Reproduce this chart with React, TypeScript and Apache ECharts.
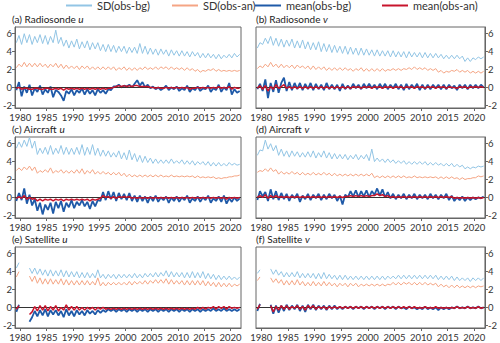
import React, { useEffect, useRef } from "react";
import * as echarts from "echarts";

// time axis: half-year samples starting 1979.25
const FIRST_SAMPLE = 1979.25;
const SAMPLE_STEP = 0.5;
const xTickYears = [1980, 1985, 1990, 1995, 2000, 2005, 2010, 2015, 2020];
const yTickValues = [-2, 0, 2, 4, 6];
const seriesNames = ["SD(obs-bg)", "SD(obs-an)", "mean(obs-bg)", "mean(obs-an)"];
const panelLabels = ["(a) Radiosonde ", "(b) Radiosonde ", "(c) Aircraft ", "(d) Aircraft ", "(e) Satellite ", "(f) Satellite "];
const panelComponents = ["u", "v", "u", "v", "u", "v"];

// (a) Radiosonde u
const radUSdBg = [5.0,5.8,4.8,6.0,5.0,5.9,4.8,5.7,5.0,5.9,4.9,5.8,4.8,5.7,5.0,6.4,4.9,5.6,4.6,5.3,
  4.4,5.2,4.5,5.4,4.3,5.1,4.4,5.2,4.2,5.0,4.3,5.0,4.1,4.8,4.0,4.8,4.0,4.7,3.9,4.6,
  4.0,4.6,3.8,4.5,3.9,4.5,3.8,4.9,3.8,4.6,3.7,4.4,3.7,4.3,3.6,4.3,3.7,4.2,3.5,4.2,
  3.6,4.1,3.5,4.1,3.5,4.0,3.4,4.0,3.5,3.9,3.3,3.8,3.3,3.8,3.3,3.7,3.2,3.7,3.2,3.6,
  3.3,3.7,3.3,3.8,3.4,3.7];
const radUSdAn = [2.2,2.6,2.3,2.8,2.3,2.7,2.3,2.7,2.3,2.7,2.3,2.6,2.2,2.6,2.3,2.7,2.2,2.6,2.1,2.5,
  2.1,2.4,2.1,2.4,2.0,2.4,2.1,2.4,2.0,2.3,2.0,2.3,2.0,2.3,2.0,2.3,2.0,2.3,1.9,2.2,
  2.0,2.3,1.9,2.2,1.9,2.2,1.9,2.2,2.0,2.3,2.0,2.2,2.0,2.3,2.0,2.3,2.1,2.3,2.0,2.3,
  2.0,2.2,2.0,2.2,1.9,2.2,1.9,2.1,1.8,2.0,1.7,1.9,1.8,2.0,1.9,2.1,1.8,2.0,1.8,1.9,
  1.8,1.9,1.8,1.9,1.8,1.9];
const radUMeanBg = [-0.3,0.6,-1.0,0.1,-0.6,0.3,-0.9,-0.1,-0.5,0.2,-0.8,-0.2,-0.6,0.1,-1.1,-0.3,-0.5,-0.9,-1.5,-0.4,
  -0.7,-0.2,-0.9,-0.3,-0.6,-0.1,-0.8,-0.2,-0.7,-0.3,-0.9,-0.2,-0.6,-0.3,-0.7,-0.2,-0.3,0.1,0.1,0.3,
  0.0,0.2,0.1,0.3,0.0,0.4,0.8,0.2,0.6,0.0,0.3,-0.1,0.1,-0.2,0.0,-0.3,-0.1,0.2,-0.3,0.0,
  -0.2,0.1,-0.4,-0.1,-0.3,0.2,-0.5,-0.1,-0.3,0.1,-0.4,-0.1,-0.2,0.2,-0.5,-0.1,-0.3,0.3,-0.5,0.0,
  -0.3,0.5,-0.8,-0.2,-0.6,-0.4];
const radUMeanAn = [-0.1,0.0,-0.2,-0.1,-0.1,-0.2,-0.2,-0.1,-0.1,-0.2,-0.2,-0.1,-0.1,-0.2,-0.2,-0.1,-0.2,-0.1,-0.3,-0.1,
  -0.2,-0.1,-0.2,-0.1,-0.2,-0.1,-0.2,-0.1,-0.2,-0.1,-0.2,-0.1,-0.2,-0.1,-0.2,-0.1,-0.1,0.0,0.1,0.2,
  0.1,0.2,0.1,0.2,0.1,0.2,0.2,0.1,0.1,0.1,0.1,0.0,0.0,-0.1,0.0,-0.1,-0.1,0.0,-0.1,0.0,
  -0.1,0.0,-0.1,0.0,-0.1,0.0,-0.2,-0.1,-0.1,0.0,-0.1,0.0,-0.1,0.0,-0.1,0.0,-0.1,0.1,-0.1,0.0,
  -0.1,0.1,-0.2,0.0,-0.1,-0.1];

// (b) Radiosonde v
const radVSdBg = [4.4,5.0,4.8,5.5,4.9,5.7,4.7,5.5,4.6,5.4,4.5,5.3,4.6,5.4,4.4,5.2,4.4,5.3,4.3,5.1,
  4.2,5.0,4.2,5.1,4.0,4.9,4.0,4.8,3.9,4.7,3.9,4.6,3.8,4.6,3.7,4.5,3.7,4.4,3.6,4.4,
  3.6,4.3,3.6,4.2,3.5,4.2,3.5,4.1,3.5,4.1,3.4,4.1,3.4,4.0,3.4,4.0,3.3,4.0,3.4,3.9,
  3.4,3.9,3.3,3.9,3.3,3.8,3.3,3.8,3.3,3.7,3.2,3.6,3.2,3.6,3.2,3.6,3.2,3.5,2.9,3.3,
  2.9,3.3,3.1,3.4,3.2,3.4];
const radVSdAn = [2.1,2.4,2.2,2.6,2.3,2.8,2.3,2.6,2.2,2.6,2.2,2.5,2.2,2.5,2.1,2.5,2.2,2.4,2.1,2.4,
  2.0,2.4,2.0,2.3,2.0,2.3,1.9,2.2,1.9,2.2,1.9,2.2,1.9,2.2,1.9,2.1,1.8,2.1,1.9,2.2,
  1.8,2.1,1.8,2.1,1.8,2.1,1.8,2.1,1.8,2.0,1.9,2.1,1.9,2.1,1.9,2.1,2.0,2.2,2.0,2.3,
  2.0,2.2,2.0,2.2,1.9,2.1,1.9,2.1,1.7,1.9,1.6,1.8,1.7,1.9,1.8,2.0,1.7,1.9,1.7,1.9,
  1.6,1.8,1.6,1.8,1.6,1.8];
const radVMeanBg = [-0.2,0.4,-0.4,0.9,-1.2,0.5,-0.5,0.8,-0.6,0.5,1.1,-0.4,0.6,-0.3,0.5,-0.2,0.5,-0.3,0.4,-0.2,
  0.5,-0.3,0.4,-0.2,0.3,-0.3,0.5,-0.2,0.3,-0.2,0.3,-0.4,0.4,-0.2,0.2,-0.2,0.4,-0.1,0.3,-0.2,
  0.4,-0.1,0.4,-0.1,0.3,-0.2,0.4,-0.1,0.4,-0.2,0.3,-0.1,0.4,-0.2,0.3,-0.3,0.4,-0.2,0.3,-0.1,
  0.4,-0.3,0.3,-0.2,0.3,-0.2,0.3,-0.1,0.3,-0.2,0.3,-0.2,0.3,-0.1,0.2,-0.3,0.3,-0.1,0.3,-0.2,
  0.3,-0.1,0.3,-0.1,0.3,0.0];
const radVMeanAn = [-0.1,0.2,-0.2,0.2,-0.4,0.1,-0.2,0.3,-0.1,0.1,0.3,-0.1,0.1,-0.1,0.1,-0.1,0.1,-0.1,0.1,-0.1,
  0.1,-0.1,0.1,-0.1,0.1,-0.1,0.1,-0.1,0.1,-0.1,0.1,-0.1,0.1,-0.1,0.1,-0.1,0.1,0.0,0.1,-0.1,
  0.1,0.0,0.1,-0.1,0.1,0.0,0.1,-0.1,0.1,0.0,0.1,-0.1,0.1,0.0,0.1,-0.1,0.1,0.0,0.1,-0.1,
  0.1,0.0,0.1,-0.1,0.1,0.0,0.1,-0.1,0.1,0.0,0.1,-0.1,0.1,0.0,0.0,-0.1,0.1,0.0,0.1,-0.1,
  0.1,0.0,0.1,0.0,0.1,0.0];

// (c) Aircraft u
const airUSdBg = [5.5,6.2,5.6,6.4,5.7,6.7,5.5,6.3,4.8,5.5,4.9,5.6,4.8,5.8,4.8,5.5,4.9,5.8,4.8,5.6,
  4.8,5.5,4.8,5.6,4.8,5.9,4.7,5.6,4.8,5.9,4.7,5.5,4.6,5.3,4.6,5.2,4.5,5.0,4.5,5.2,
  4.3,5.0,4.2,5.3,4.2,4.9,4.0,4.7,3.9,4.6,3.9,4.4,3.8,4.3,3.8,4.2,3.8,4.2,3.8,4.3,
  3.8,4.1,3.8,4.2,3.7,4.1,3.7,4.1,3.6,4.0,3.7,4.0,3.6,4.0,3.5,3.9,3.5,3.9,3.5,3.8,
  3.5,3.9,3.6,3.8,3.6,3.7];
const airUSdAn = [3.0,3.3,3.0,3.4,3.1,3.5,3.0,3.4,2.7,3.0,2.8,3.1,2.8,3.3,2.7,3.0,2.8,3.1,2.7,3.0,
  2.7,3.0,2.7,3.1,2.7,3.2,2.6,3.0,2.7,3.1,2.6,2.9,2.6,2.9,2.6,2.8,2.5,2.8,2.5,2.8,
  2.4,2.7,2.3,2.6,2.3,2.5,2.3,2.5,2.3,2.5,2.3,2.5,2.3,2.5,2.3,2.5,2.3,2.4,2.3,2.5,
  2.3,2.4,2.3,2.4,2.3,2.4,2.3,2.4,2.2,2.4,2.2,2.3,2.2,2.3,2.2,2.3,2.1,2.2,2.1,2.2,
  2.2,2.3,2.3,2.4,2.4,2.5];
const airUMeanBg = [-0.4,0.5,-0.3,1.0,-0.7,0.3,-0.9,-0.2,-1.5,-0.6,-1.9,-0.8,-1.4,-0.6,-1.8,-0.5,-1.2,-0.4,-1.6,-0.6,
  -1.1,-0.3,-1.2,-0.5,-0.9,-0.3,-1.0,-0.5,-1.3,-0.4,-1.0,-0.3,-0.4,0.6,-0.3,0.7,-0.2,0.6,-0.4,0.5,
  -0.2,0.4,-0.3,0.5,-0.4,0.2,-0.5,0.2,-0.4,0.1,-0.6,0.1,-0.4,0.2,-0.5,0.0,-0.3,0.1,-0.6,0.0,
  -0.4,0.1,-0.5,0.0,-0.3,0.2,-0.6,-0.1,-0.4,0.1,-0.5,0.0,-0.3,0.2,-0.6,-0.1,-0.4,0.1,-0.5,0.2,
  -0.7,-0.1,-0.5,0.0,-0.4,-0.1];
const airUMeanAn = [-0.1,0.1,-0.1,0.2,-0.2,0.0,-0.2,-0.1,-0.4,-0.2,-0.4,-0.2,-0.3,-0.2,-0.4,-0.2,-0.3,-0.2,-0.4,-0.2,
  -0.3,-0.2,-0.3,-0.2,-0.3,-0.2,-0.3,-0.2,-0.4,-0.2,-0.3,-0.2,-0.1,0.2,0.0,0.1,-0.1,0.1,-0.1,0.1,
  0.0,0.1,0.0,0.1,-0.1,0.0,-0.1,0.0,-0.1,0.0,-0.1,0.0,-0.1,0.0,-0.1,0.0,-0.1,0.0,-0.1,0.0,
  -0.1,0.0,-0.1,0.0,-0.1,0.0,-0.1,0.0,-0.1,0.0,-0.1,0.0,-0.1,0.0,-0.1,0.0,-0.1,0.0,-0.1,0.0,
  -0.2,0.0,-0.1,0.0,-0.1,0.0];

// (d) Aircraft v
const airVSdBg = [4.7,5.3,5.2,6.4,5.4,6.0,5.2,5.8,4.7,5.4,4.6,5.2,4.5,5.2,4.6,5.1,4.5,5.0,4.5,5.1,
  4.5,5.2,4.4,5.0,4.5,5.2,4.4,5.0,4.3,4.9,4.3,4.8,4.3,4.8,4.2,4.7,4.3,4.8,4.2,4.7,
  4.3,4.8,4.1,5.4,4.0,4.4,4.0,4.3,3.9,4.3,3.9,4.2,3.8,4.1,3.8,4.1,3.7,4.0,3.7,4.0,
  3.7,4.0,3.7,4.0,3.6,3.9,3.6,3.9,3.6,3.8,3.5,3.8,3.5,3.8,3.4,3.7,3.4,3.6,3.2,3.4,
  3.2,3.4,3.3,3.5,3.4,3.5];
const airVSdAn = [2.8,3.0,2.9,3.2,2.9,3.3,2.9,3.1,2.6,2.9,2.6,2.8,2.6,2.9,2.6,2.8,2.5,2.8,2.5,2.7,
  2.5,2.8,2.5,2.7,2.5,2.8,2.5,2.7,2.4,2.7,2.4,2.6,2.4,2.6,2.4,2.6,2.4,2.6,2.4,2.6,
  2.4,2.6,2.4,2.7,2.2,2.4,2.2,2.4,2.2,2.4,2.2,2.4,2.2,2.4,2.2,2.4,2.2,2.3,2.2,2.4,
  2.2,2.3,2.2,2.3,2.2,2.3,2.2,2.3,2.1,2.3,2.1,2.3,2.1,2.3,2.1,2.2,2.0,2.2,2.0,2.1,
  2.1,2.2,2.2,2.4,2.3,2.4];
const airVMeanBg = [-0.3,0.7,0.1,0.6,-0.4,0.9,-0.2,0.7,-0.3,0.5,-0.2,0.4,-0.4,0.3,-0.1,0.4,-0.5,0.2,-0.2,0.4,
  -0.3,0.3,-0.1,0.4,-0.3,0.3,-0.2,0.4,-0.1,0.3,-0.4,0.2,-0.8,0.3,0.0,0.7,0.1,0.8,0.0,0.7,
  0.1,0.8,0.0,0.7,0.3,1.0,0.2,0.9,0.0,0.6,-0.1,0.4,-0.2,0.3,-0.1,0.4,-0.2,0.3,-0.1,0.4,
  -0.2,0.3,-0.1,0.3,-0.2,0.4,-0.1,0.3,-0.2,0.3,-0.1,0.4,-0.3,0.2,-0.4,0.0,-0.3,0.1,-0.4,0.0,
  -0.3,0.0,-0.2,0.0,-0.1,0.1];
const airVMeanAn = [0.0,0.2,0.0,0.3,-0.1,0.2,0.0,0.2,0.0,0.1,0.0,0.1,0.0,0.1,0.0,0.1,0.0,0.1,0.0,0.1,
  0.0,0.1,0.0,0.1,0.0,0.1,0.0,0.1,0.0,0.1,0.0,0.1,0.0,0.1,0.1,0.2,0.1,0.2,0.1,0.2,
  0.1,0.2,0.1,0.2,0.2,0.4,0.2,0.3,0.1,0.2,0.0,0.1,0.0,0.1,0.0,0.1,0.0,0.1,0.0,0.1,
  0.0,0.1,0.0,0.1,0.0,0.1,0.0,0.1,0.0,0.1,0.0,0.1,0.0,0.1,-0.1,0.0,-0.1,0.0,-0.1,0.0,
  -0.1,0.0,-0.1,0.0,-0.1,0.0];

// (e) Satellite u
const satUSdBg = [4.4,5.0,null,null,null,4.4,3.8,4.4,3.7,4.3,3.6,4.2,3.5,4.2,3.5,4.1,3.5,4.2,3.4,4.1,
  3.4,4.0,3.4,4.0,3.3,3.9,3.3,3.9,3.3,3.8,3.3,4.2,3.3,3.7,3.2,3.7,3.3,3.7,3.2,3.7,
  3.3,3.7,3.3,3.7,3.3,3.8,3.3,3.7,3.3,3.8,3.4,3.8,3.4,3.9,3.4,3.9,3.5,4.1,3.4,4.0,
  3.4,3.9,3.4,3.9,3.3,3.9,3.3,4.0,3.3,3.9,3.3,4.0,3.2,3.8,3.2,3.7,3.1,3.6,3.1,3.5,
  3.1,3.5,3.1,3.4,3.1,3.4];
const satUSdAn = [3.4,4.0,null,null,null,3.5,2.9,3.5,2.7,3.3,2.6,3.2,2.6,3.2,2.6,3.1,2.6,3.2,2.5,3.1,
  2.5,3.0,2.5,3.0,2.5,3.0,2.5,3.0,2.5,2.9,2.5,3.3,2.4,2.8,2.4,2.8,2.5,2.8,2.5,2.8,
  2.5,2.8,2.5,2.9,2.5,2.9,2.6,2.9,2.6,3.0,2.6,3.0,2.7,3.1,2.7,3.1,2.7,3.2,2.6,3.1,
  2.6,3.0,2.6,3.0,2.5,3.0,2.5,3.0,2.5,3.0,2.5,3.0,2.4,2.9,2.4,2.8,2.3,2.8,2.3,2.7,
  2.3,2.7,2.3,2.6,2.4,2.6];
const satUMeanBg = [-0.5,0.3,null,null,null,-1.6,-1.1,-0.4,-1.0,-0.3,-0.9,-0.2,-1.0,-0.3,-0.8,-0.3,-0.9,-0.4,-1.1,-0.2,
  -0.9,-0.4,-1.0,-0.3,-0.8,-0.4,-0.9,-0.3,-0.7,-0.4,-0.8,-0.3,-0.6,-0.3,-0.5,-0.2,-0.4,-0.2,-0.5,-0.2,
  -0.4,-0.2,-0.5,-0.2,-0.4,-0.2,-0.5,-0.2,-0.4,-0.2,-0.5,-0.2,-0.4,-0.2,-0.5,-0.2,-0.4,-0.2,-0.5,-0.2,
  -0.4,-0.2,-0.5,-0.2,-0.4,-0.2,-0.5,-0.2,-0.4,-0.2,-0.5,-0.2,-0.4,-0.2,-0.4,-0.1,-0.4,-0.2,-0.4,-0.1,
  -0.4,-0.2,-0.4,-0.2,-0.4,-0.2];
const satUMeanAn = [-0.2,0.2,null,null,null,-0.8,-0.5,0.1,-0.4,0.2,-0.3,0.2,-0.4,0.1,-0.3,0.2,-0.4,0.0,-0.3,0.3,
  -0.3,0.1,-0.3,0.1,-0.3,0.0,-0.3,0.0,-0.2,0.0,-0.3,0.0,-0.2,0.0,-0.2,-0.1,-0.2,-0.1,-0.2,-0.1,
  -0.2,-0.1,-0.2,-0.1,-0.2,-0.1,-0.2,-0.1,-0.2,-0.1,-0.2,-0.1,-0.2,-0.1,-0.2,-0.1,-0.2,-0.1,-0.2,-0.1,
  -0.2,-0.1,-0.2,-0.1,-0.2,-0.1,-0.2,-0.1,-0.2,0.0,-0.2,0.0,-0.2,0.0,-0.1,0.1,-0.2,0.1,-0.1,0.1,
  -0.2,0.1,-0.1,0.0,-0.1,0.0];

// (f) Satellite v
const satVSdBg = [3.8,4.2,null,null,null,4.3,3.7,4.2,3.6,4.0,3.4,3.9,3.4,3.9,3.4,4.0,3.3,3.8,3.3,3.8,
  3.3,3.8,3.2,3.8,3.2,3.9,3.2,3.7,3.2,3.6,3.1,3.6,3.1,3.6,3.1,3.5,3.1,3.5,3.1,3.5,
  3.1,3.5,3.1,3.5,3.1,3.5,3.1,3.5,3.1,3.5,3.2,3.5,3.2,3.6,3.2,3.6,3.2,3.6,3.2,3.6,
  3.2,3.6,3.2,3.6,3.2,3.6,3.2,3.6,3.1,3.5,3.1,3.5,3.1,3.5,3.0,3.4,3.0,3.3,3.0,3.3,
  2.9,3.3,3.0,3.3,3.0,3.3];
const satVSdAn = [3.0,3.4,null,null,null,3.3,2.8,3.2,2.7,3.1,2.5,3.0,2.5,3.0,2.5,3.1,2.5,2.9,2.4,2.8,
  2.4,2.9,2.4,2.8,2.4,2.9,2.4,2.8,2.4,2.7,2.3,2.7,2.4,2.7,2.3,2.7,2.4,2.7,2.3,2.6,
  2.4,2.6,2.4,2.6,2.4,2.6,2.4,2.6,2.4,2.6,2.5,2.8,2.5,2.8,2.5,2.8,2.6,2.8,2.5,2.8,
  2.5,2.8,2.5,2.8,2.5,2.7,2.5,2.7,2.3,2.6,2.3,2.5,2.2,2.5,2.2,2.5,2.2,2.4,2.2,2.4,
  2.2,2.4,2.2,2.4,2.3,2.4];
const satVMeanBg = [-0.4,0.4,null,null,null,0.3,-0.7,0.2,-0.6,0.2,-0.4,0.3,-0.3,0.2,-0.2,0.3,-0.4,0.2,-0.5,0.3,
  -0.2,0.3,-0.3,0.2,-0.2,0.2,-0.3,0.2,-0.2,0.2,-0.2,0.1,-0.2,0.1,-0.1,0.1,-0.2,0.1,-0.1,0.1,
  -0.2,0.1,-0.1,0.1,-0.2,0.1,-0.1,0.1,-0.2,0.1,-0.1,0.1,-0.2,0.1,-0.1,0.0,-0.2,0.1,-0.1,0.0,
  -0.2,0.0,-0.2,0.1,-0.2,0.0,-0.2,0.0,-0.3,0.0,-0.2,0.0,-0.2,0.0,-0.1,0.1,-0.1,0.0,-0.1,0.1,
  -0.1,0.0,-0.1,0.1,-0.1,0.0];
const satVMeanAn = [-0.2,0.3,null,null,null,0.2,-0.5,0.1,-0.3,0.2,-0.2,0.2,-0.2,0.1,-0.1,0.2,-0.2,0.1,-0.3,0.2,
  -0.1,0.2,-0.2,0.1,-0.1,0.1,-0.2,0.1,-0.1,0.1,-0.1,0.1,-0.1,0.1,-0.1,0.1,-0.1,0.1,-0.1,0.1,
  -0.1,0.1,-0.1,0.1,-0.1,0.1,-0.1,0.1,-0.1,0.1,-0.1,0.1,-0.1,0.1,-0.1,0.1,-0.1,0.1,-0.1,0.1,
  -0.1,0.0,-0.1,0.1,-0.1,0.0,-0.1,0.1,-0.1,0.0,-0.1,0.0,-0.1,0.0,-0.1,0.1,-0.1,0.0,-0.1,0.1,
  -0.1,0.0,-0.1,0.1,-0.1,0.0];

const panels = [
  [radUSdBg, radUSdAn, radUMeanBg, radUMeanAn],
  [radVSdBg, radVSdAn, radVMeanBg, radVMeanAn],
  [airUSdBg, airUSdAn, airUMeanBg, airUMeanAn],
  [airVSdBg, airVSdAn, airVMeanBg, airVMeanAn],
  [satUSdBg, satUSdAn, satUMeanBg, satUMeanAn],
  [satVSdBg, satVSdAn, satVMeanBg, satVMeanAn],
];

const FONT = "Lato, 'Open Sans', sans-serif";
const COLORS = ["#92c5e5", "#f5a584", "#1f5aa8", "#c8142c"];
const WIDTHS = [1, 1, 1.8, 1.5];
const GRID_LEFT = [12, 256];
const GRID_WIDTH = [229, 231];
const GRID_TOP = [27, 137, 247];
const GRID_HEIGHT = 81;
const AXIS_COLOR = "#666";
const TEXT_COLOR = "#333";
const LEGEND_LEFT = [66, 172, 255, 382];

function buildOption() {
  const grid = panels.map((_, i) => ({
    left: GRID_LEFT[i % 2],
    top: GRID_TOP[Math.floor(i / 2)],
    width: GRID_WIDTH[i % 2],
    height: GRID_HEIGHT,
    show: true,
    borderColor: AXIS_COLOR,
    borderWidth: 1,
    backgroundColor: "transparent",
  }));
  const xAxis = panels.map((_, i) => ({
    gridIndex: i,
    type: "value",
    min: 1979,
    max: 2022,
    splitLine: { show: false },
    axisLine: { show: true, onZero: false, lineStyle: { color: AXIS_COLOR } },
    axisTick: { show: true, length: 3, customValues: xTickYears, lineStyle: { color: AXIS_COLOR } },
    axisLabel: {
      customValues: xTickYears,
      formatter: (v: number) => String(v),
      fontSize: 9.5,
      color: TEXT_COLOR,
      margin: 4,
      fontFamily: FONT,
    },
  }));
  const yAxis = panels.map((_, i) => ({
    gridIndex: i,
    type: "value",
    min: -2.3,
    max: 6.75,
    position: i % 2 ? "right" : "left",
    splitLine: { show: false },
    axisLine: { show: true, onZero: false, lineStyle: { color: AXIS_COLOR } },
    axisTick: { show: true, length: 3, customValues: yTickValues, lineStyle: { color: AXIS_COLOR } },
    axisLabel: {
      customValues: yTickValues,
      formatter: (v: number) => String(v),
      fontSize: 9.5,
      color: TEXT_COLOR,
      margin: 3,
      fontFamily: FONT,
    },
  }));
  const series: any[] = [];
  panels.forEach((group, i) => {
    group.forEach((vals, j) => {
      const s: any = {
        type: "line",
        name: seriesNames[j],
        xAxisIndex: i,
        yAxisIndex: i,
        data: vals.map((v, k) => [FIRST_SAMPLE + k * SAMPLE_STEP, v]),
        showSymbol: false,
        symbol: "none",
        connectNulls: false,
        lineStyle: { color: COLORS[j], width: WIDTHS[j] },
        itemStyle: { color: COLORS[j] },
        z: 2 + j,
      };
      if (j === 0) {
        s.markLine = {
          silent: true,
          symbol: "none",
          label: { show: false },
          lineStyle: { color: "#333", width: 1, type: "solid" },
          data: [{ yAxis: 0 }],
        };
      }
      series.push(s);
    });
  });
  const title = panels.map((_, i) => ({
    text: `{n|${panelLabels[i]}}{i|${panelComponents[i]}}`,
    left: GRID_LEFT[i % 2],
    top: GRID_TOP[Math.floor(i / 2)] - 13,
    padding: 0,
    textStyle: {
      fontSize: 10,
      fontWeight: "normal",
      color: "#222",
      fontFamily: FONT,
      rich: {
        n: { fontSize: 10, fontFamily: FONT, color: "#222" },
        i: { fontSize: 10, fontFamily: FONT, color: "#222", fontStyle: "italic" },
      },
    },
  }));
  const legend = seriesNames.map((name, j) => ({
    data: [name],
    left: LEGEND_LEFT[j],
    top: 0,
    padding: 0,
    itemWidth: 26,
    itemHeight: 2,
    icon: "rect",
    textStyle: { fontSize: 11, color: TEXT_COLOR, fontFamily: FONT },
  }));
  return {
    animation: false,
    backgroundColor: "#fff",
    title,
    legend,
    grid,
    xAxis,
    yAxis,
    series,
  };
}

export default function App() {
  const ref = useRef<HTMLDivElement>(null);
  useEffect(() => {
    if (!ref.current) return;
    const chart = echarts.init(ref.current, undefined, { renderer: "svg" });
    chart.setOption(buildOption() as any);
    return () => chart.dispose();
  }, []);
  return (
    <div
      ref={ref}
      style={{ position: "absolute", left: 0, top: 0, width: 500, height: 343, background: "#fff" }}
    />
  );
}
